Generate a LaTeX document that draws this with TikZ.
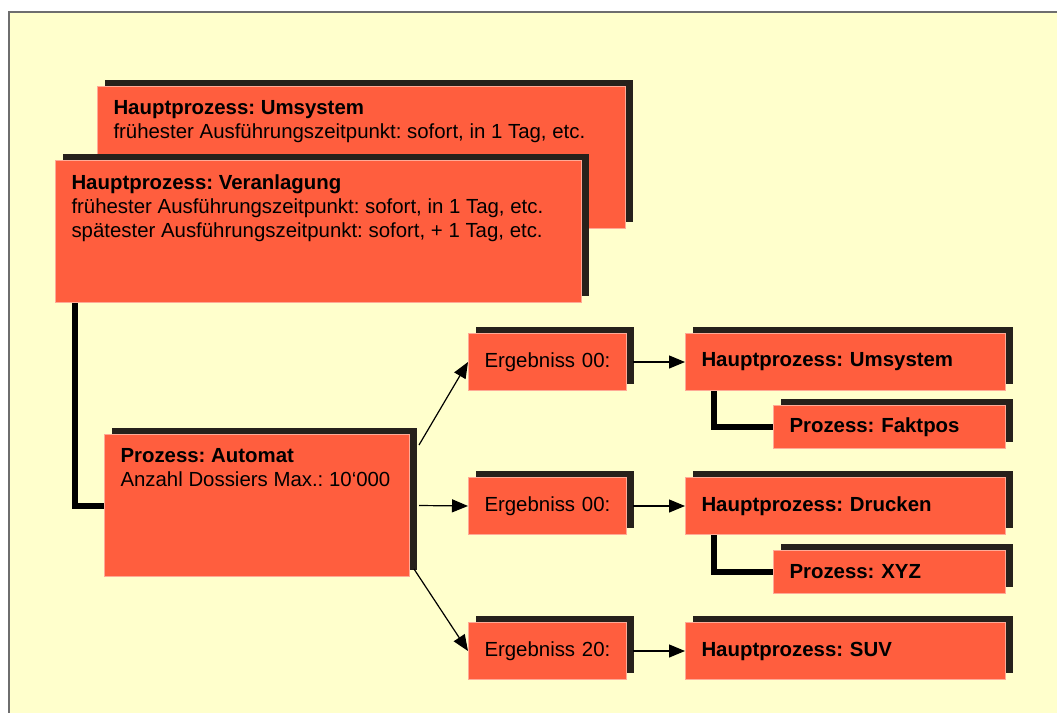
\documentclass[tikz,border=0pt]{standalone}
\usepackage{fontspec}
\setmainfont{Liberation Sans}
\frenchspacing
\usetikzlibrary{arrows.meta, shadows}
\definecolor{panel}{RGB}{255,255,204}
\definecolor{frameline}{RGB}{110,110,110}
\definecolor{procred}{RGB}{255,94,62}
\definecolor{procedge}{RGB}{255,170,150}
\definecolor{shade}{RGB}{38,33,27}
\tikzset{
    proc/.style={fill=procred, draw=procedge, line width=0.5pt, anchor=north west,
        inner xsep=8pt, inner ysep=0pt, align=left,
        font=\fontsize{10.2}{12}\selectfont,
        drop shadow={fill=shade, opacity=1, shadow xshift=3.5pt, shadow yshift=3.5pt}},
    tall/.style={proc, inner ysep=7pt},
    erg/.style={proc, text width=63pt, minimum height=28.5pt},
    haupt/.style={proc, text width=144pt, minimum height=28.5pt, font=\fontsize{10.2}{12}\selectfont\bfseries},
    subproc/.style={proc, text width=100pt, minimum height=21.5pt, font=\fontsize{10.2}{12}\selectfont\bfseries},
    joint/.style={line width=3pt},
    flow/.style={line width=0.6pt, -{Triangle[length=8pt,width=6.5pt]}}
}

\begin{document}
\begin{tikzpicture}[x=0.5pt, y=-0.5pt]
    \useasboundingbox (0,0) rectangle (1057,713);
    % background panel
    \fill[panel] (9,12) rectangle (1080,740);
    \draw[frameline, line width=1pt] (9,740) -- (9,12) -- (1080,12);

    \node[tall] (umsys) at (97,86) {\parbox[c][57pt][t]{248pt}{\textbf{Hauptprozess: Umsystem}\\
        frühester Ausführungszeitpunkt: sofort, in 1 Tag, etc.}};
    \node[tall] (veran) at (55,160) {\parbox[c][57pt][t]{247pt}{\textbf{Hauptprozess: Veranlagung}\\
        frühester Ausführungszeitpunkt: sofort, in 1 Tag, etc.\\
        spätester Ausführungszeitpunkt: sofort, + 1 Tag, etc.}};
    \node[tall] (automat) at (104,434) {\parbox[c][57pt][t]{136.5pt}{\textbf{Prozess: Automat}\\
        Anzahl Dossiers Max.: 10‘000}};

    \node[erg] (erg1) at (468,333) {Ergebniss 00:};
    \node[haupt] (ums) at (685,333) {Hauptprozess: Umsystem};
    \node[subproc] (fakt) at (773,405) {Prozess: Faktpos};
    \node[erg] (erg2) at (468,477) {Ergebniss 00:};
    \node[haupt] (druck) at (685,477) {Hauptprozess: Drucken};
    \node[subproc] (xyz) at (773,550) {Prozess: XYZ};
    \node[erg] (erg3) at (468,622) {Ergebniss 20:};
    \node[haupt] (suv) at (685,622) {Hauptprozess: SUV};

    \draw[joint] ([xshift=10pt]veran.south west) |- (automat.west);
    \draw[joint] ([xshift=14.5pt]ums.south west) |- (fakt.west);
    \draw[joint] ([xshift=14.5pt]druck.south west) |- (xyz.west);

    \draw[flow] ([xshift=4.5pt,yshift=-5.5pt]automat.north east) -- (erg1.west);
    \draw[flow] ([xshift=4.5pt]automat.east) -- (erg2.west);
    \draw[flow] ([xshift=2pt,yshift=4pt]automat.south east) -- (erg3.west);
    \foreach \a/\b in {erg1/ums, erg2/druck, erg3/suv}
        \draw[flow] ([xshift=3pt]\a.east) -- (\b.west);
\end{tikzpicture}
\end{document}
